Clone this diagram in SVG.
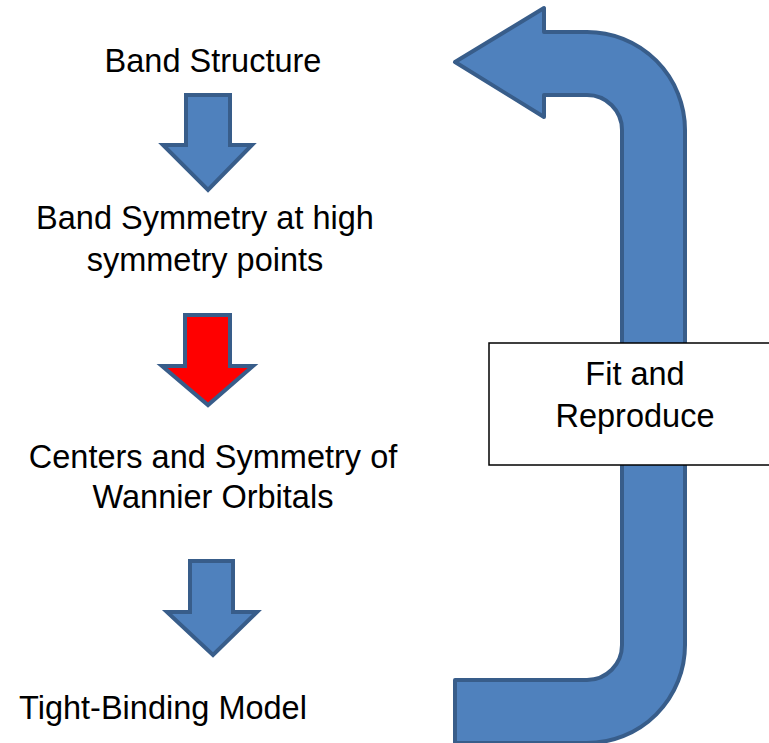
<svg xmlns="http://www.w3.org/2000/svg" width="769" height="743" viewBox="0 0 769 743">
<style>
.lbl{font-family:"Liberation Sans",Arial,sans-serif;font-size:32.5px;fill:#000;text-anchor:middle}
.arr{fill:#4F81BD;stroke:#385D8A;stroke-width:4;stroke-linejoin:round}
.red{fill:#FF0000;stroke:#385D8A;stroke-width:4;stroke-linejoin:miter}
</style>
<rect width="769" height="743" fill="#fff"/>
<g id="connectors">
<path class="arr" d="M455,62 L544,8 V32 H587 A98,98 0 0 1 685,130 V645 A98,98 0 0 1 587,743 H455 V680 H587 A35,35 0 0 0 622,645 V130 A35,35 0 0 0 587,95 H544 V117 Z"/>
<path class="arr" style="stroke-linejoin:miter" d="M186,95 H230 V145 H252 L208,190 L163,145 H186 Z"/>
<path class="red" d="M185,315 H230 V366 H253 L208,405 L162,366 H185 Z"/>
<path class="arr" style="stroke-linejoin:miter" d="M190,561 H233 V612 H257 L213,655 L167,612 H190 Z"/>
</g>
<g id="n1"><text class="lbl" x="213" y="72">Band Structure</text></g>
<g id="n2"><text class="lbl" x="205" y="229">Band Symmetry at high</text><text class="lbl" x="205" y="271">symmetry points</text></g>
<g id="n3"><text class="lbl" x="213" y="468">Centers and Symmetry of</text><text class="lbl" x="213" y="508">Wannier Orbitals</text></g>
<g id="n4"><text class="lbl" x="163" y="719">Tight-Binding Model</text></g>
<g id="n5"><rect x="489" y="343" width="290" height="122" fill="#fff" stroke="#000" stroke-width="1.5"/><text class="lbl" x="635" y="385">Fit and</text><text class="lbl" x="635" y="427">Reproduce</text></g>
</svg>
